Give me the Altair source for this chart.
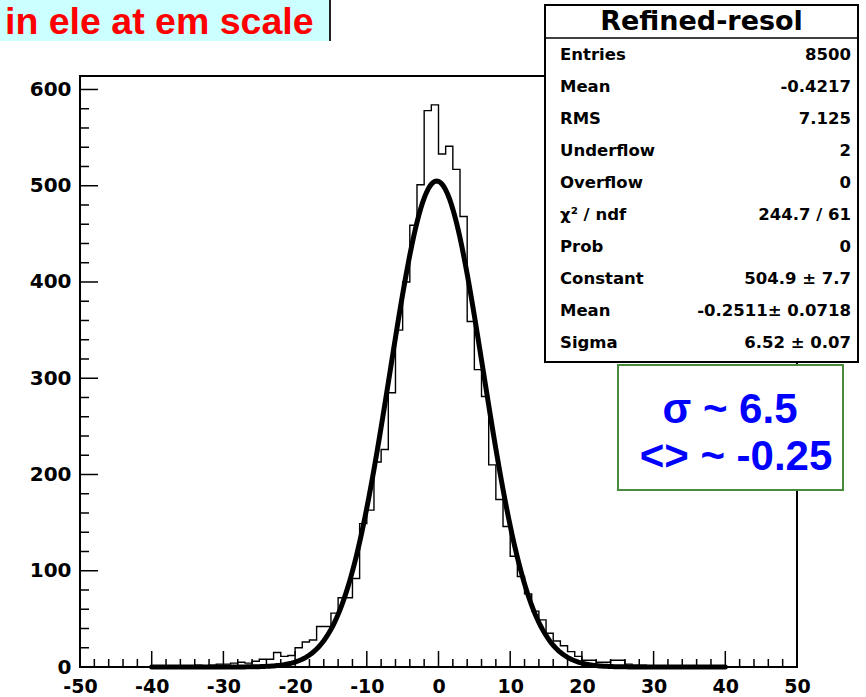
import altair as alt
import pandas as pd
import numpy as np

# ---------------- data ----------------
bin_low = list(range(-40, 40))          # bin width 1, range -40..40
counts = [1, 0, 1, 1, 0, 1, 2, 1, 2, 3,
          3, 4, 5, 4, 6, 8, 8, 15, 11, 12,
          20, 26, 28, 42, 42, 56, 72, 72, 92, 149,
          163, 213, 226, 285, 350, 400, 459, 501, 578, 584,
          533, 541, 517, 468, 359, 309, 281, 210, 174, 146,
          115, 94, 76, 58, 49, 35, 27, 22, 16, 11,
          7, 7, 5, 5, 7, 7, 3, 2, 2, 1,
          1, 1, 0, 1, 0, 1, 0, 0, 1, 0]

fit_constant = 504.9
fit_mean = -0.2511
fit_sigma = 6.52

x_major = [-50, -40, -30, -20, -10, 0, 10, 20, 30, 40, 50]
x_minor = [v for v in range(-50, 51, 2) if v % 10 != 0]
y_major = [0, 100, 200, 300, 400, 500, 600]
y_minor = [v for v in range(0, 614, 20) if v % 100 != 0]

stat_labels = ["Entries", "Mean", "RMS", "Underflow", "Overflow", "\u03c7\u00b2 / ndf",
               "Prob", "Constant", "Mean", "Sigma"]
stat_values = ["8500", "-0.4217", "7.125", "2", "0", "244.7 / 61", "0",
               "504.9 \u00b1 7.7", "-0.2511\u00b1 0.0718", "6.52 \u00b1 0.07"]

# ---------------- geometry ----------------
W, H = 717, 591
XD = [-50, 50]
YD = [0, 614]
xs = alt.Scale(domain=XD, nice=False, zero=False)
ys = alt.Scale(domain=YD, nice=False, zero=False)
FONT = "DejaVu Sans"

# histogram outline vertices
vx, vy = [bin_low[0]], [0]
for lo, c in zip(bin_low, counts):
    vx += [lo, lo + 1]
    vy += [c, c]
vx.append(bin_low[-1] + 1)
vy.append(0)
hist_df = pd.DataFrame({"x": vx, "y": vy, "o": range(len(vx))})

fx = np.linspace(-40, 40, 321)
fit_df = pd.DataFrame({"x": fx,
                       "y": fit_constant * np.exp(-0.5 * ((fx - fit_mean) / fit_sigma) ** 2)})

one = pd.DataFrame({"a": [0]})

hist = alt.Chart(hist_df).mark_line(color="black", strokeWidth=1.4, interpolate="linear").encode(
    x=alt.X("x:Q", scale=xs, axis=alt.Axis(values=x_major, title=None, grid=False, ticks=False,
                                           tickSize=0, domain=False, labelFont=FONT,
                                           labelFontWeight="bold", labelFontSize=19,
                                           labelColor="black", labelPadding=25,
                                           labelBaseline="alphabetic",
                                           labelExpr="'' + datum.value", labelFlush=False,
                                           labelOverlap=False)),
    y=alt.Y("y:Q", scale=ys, axis=alt.Axis(values=y_major, title=None, grid=False, ticks=False,
                                           tickSize=0, domain=False, labelFont=FONT,
                                           labelFontWeight="bold", labelFontSize=20,
                                           labelColor="black", labelPadding=9,
                                           labelFlush=False, labelOverlap=False)),
    order="o:Q",
)

fit = alt.Chart(fit_df).mark_line(color="black", strokeWidth=5, strokeCap="round").encode(
    x=alt.X("x:Q", scale=xs), y=alt.Y("y:Q", scale=ys))


def xticks(vals, length):
    return alt.Chart(pd.DataFrame({"v": vals})).mark_rule(color="black", strokeWidth=1.5).encode(
        x=alt.X("v:Q", scale=xs), y=alt.value(H), y2=alt.value(H - length))


def yticks(vals, length):
    return alt.Chart(pd.DataFrame({"v": vals})).mark_rule(color="black", strokeWidth=1.5).encode(
        y=alt.Y("v:Q", scale=ys), x=alt.value(0), x2=alt.value(length))


# ---- label box top-left ----
lbl_box = alt.Chart(one).mark_rect(fill="#ccffff", stroke=None).encode(
    x=alt.value(-80), x2=alt.value(250), y=alt.value(-76), y2=alt.value(-35))
lbl_edge = alt.Chart(one).mark_rule(color="#222222", strokeWidth=2).encode(
    x=alt.value(250), y=alt.value(-76), y2=alt.value(-35))
lbl_text = alt.Chart(one).mark_text(text="in ele at em scale", color="#ff0000", font="Liberation Sans",
                                    fontWeight="bold", fontSize=37.5, align="left",
                                    baseline="alphabetic").encode(
    x=alt.value(-75), y=alt.value(-42))

# ---- stats box ----
sb_x1, sb_x2, sb_y1, sb_y2 = 465, 778, -71, 286
stats_box = alt.Chart(one).mark_rect(fill="white", stroke="black", strokeWidth=2).encode(
    x=alt.value(sb_x1), x2=alt.value(sb_x2), y=alt.value(sb_y1), y2=alt.value(sb_y2))
stats_line = alt.Chart(one).mark_rule(color="black", strokeWidth=1.5).encode(
    x=alt.value(sb_x1), x2=alt.value(sb_x2), y=alt.value(-38))
stats_title = alt.Chart(one).mark_text(text="Refined-resol", font=FONT, fontWeight="bold",
                                       fontSize=27, color="black", align="center",
                                       baseline="middle").encode(
    x=alt.value((sb_x1 + sb_x2) / 2), y=alt.value(-54))

stats_df = pd.DataFrame({"lab": stat_labels, "val": stat_values, "i": range(len(stat_labels))})
stats_lab = alt.Chart(stats_df).mark_text(font=FONT, fontWeight="bold", fontSize=16.5, color="black",
                                          align="left", baseline="middle").transform_calculate(
    py="-21 + datum.i * 32").encode(
    x=alt.value(480), y=alt.Y("py:Q", scale=None), text="lab:N")
stats_val = alt.Chart(stats_df).mark_text(font=FONT, fontWeight="bold", fontSize=16.5, color="black",
                                          align="right", baseline="middle").transform_calculate(
    py="-21 + datum.i * 32").encode(
    x=alt.value(771), y=alt.Y("py:Q", scale=None), text="val:N")

# ---- green box ----
g_box = alt.Chart(one).mark_rect(fill="white", stroke="#4a8a3c", strokeWidth=2).encode(
    x=alt.value(538), x2=alt.value(763), y=alt.value(289), y2=alt.value(414))
g_t1 = alt.Chart(one).mark_text(text="\u03c3 ~ 6.5", color="#0000ff", font="Liberation Sans",
                                fontWeight="bold", fontSize=42, align="center",
                                baseline="middle").encode(x=alt.value(650), y=alt.value(334))
g_t2 = alt.Chart(one).mark_text(text="<> ~ -0.25", color="#0000ff", font="Liberation Sans",
                                fontWeight="bold", fontSize=42, align="center",
                                baseline="middle").encode(x=alt.value(656), y=alt.value(381))

chart = alt.layer(
    hist, fit,
    xticks(x_major, 16), xticks(x_minor, 8),
    yticks(y_major, 18), yticks(y_minor, 9),
    lbl_box, lbl_edge, lbl_text,
    stats_box, stats_line, stats_title, stats_lab, stats_val,
    g_box, g_t1, g_t2,
).properties(
    width=W, height=H,
    autosize=alt.AutoSizeParams(type="none"),
    padding={"left": 80, "top": 76, "right": 69, "bottom": 30},
    background="white",
).configure_view(stroke="black", strokeWidth=2)

chart.save("out.html", embed_options={"renderer": "svg", "actions": False})
